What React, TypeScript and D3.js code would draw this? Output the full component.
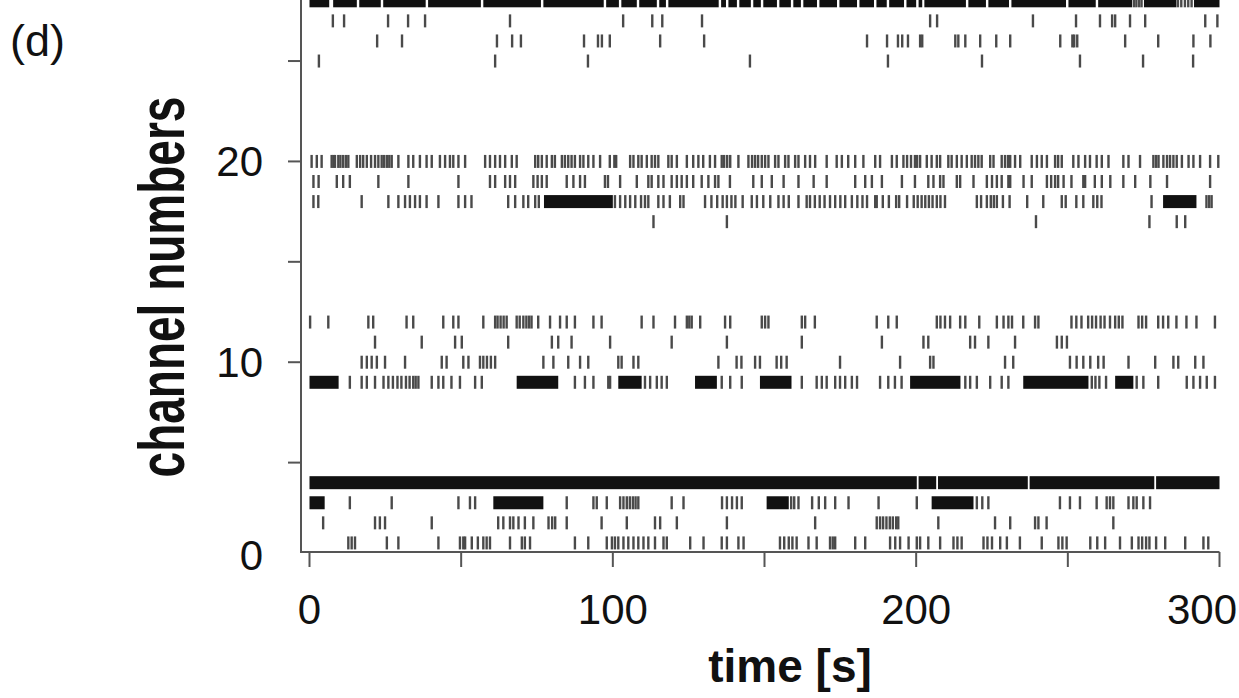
import React from 'react';
import * as d3 from 'd3';

// channels that carry activity (the others are silent)
const channelIds = [1, 2, 3, 4, 9, 10, 11, 12, 17, 18, 19, 20, 25, 26, 27, 28];

// spike times in seconds
const spikes01 = [12.8, 13.9, 15, 25.5, 29.3, 42.5, 49.6, 50.7, 51.3, 53.5, 55.5, 57.3, 58.4, 59.5, 66.1, 70, 71, 72.7, 87.5, 91.9, 98, 99.7, 100.7, 101.8, 103.5, 105.1, 106.8, 108.4, 110.1, 111.7, 113.9, 116.7, 117.8, 125.5, 129.9, 135.9, 137.6, 141.4, 143.1, 155.1, 156.5, 158, 159.2, 160.6, 164.5, 167.2, 171.6, 172.5, 173.3, 179.9, 183.2, 191.4, 193.1, 194.7, 197.5, 200.2, 201.3, 204, 207.9, 212.3, 213.6, 215, 222.2, 223.5, 225, 227.7, 229.9, 234.2, 241.4, 246.9, 248.2, 249.6, 257.4, 259.7, 262.3, 267.2, 271.1, 273.3, 274.5, 275.8, 276.9, 279.1, 282.1, 288.7, 294.7, 296.3];
const spikes02 = [4.5, 21.6, 23.2, 24.9, 40.3, 62.2, 63.9, 66.1, 67.2, 68.9, 71, 73.8, 78.8, 80, 81, 84.8, 96.3, 104.6, 113.9, 115.6, 121.1, 137.6, 166.7, 187, 188.1, 189.1, 190.2, 191.3, 192.3, 193.4, 194.1, 207.3, 226, 231, 239.2, 240.3, 243, 265];
const spikes03 = [13.3, 27.1, 49.1, 52.9, 54.6, 84.8, 93.6, 94.7, 98, 102.4, 103.5, 104.6, 105.6, 106.6, 107.5, 108.4, 119.4, 123.3, 136, 137.6, 139.3, 140.9, 142.5, 158.8, 159.8, 161.2, 165.7, 167.9, 170, 173.3, 177.7, 187.6, 200.2, 220, 221.8, 223.8, 247.4, 250.7, 254, 259.5, 262.8, 263.9, 265, 270, 271.6, 272.7, 274.9, 277.1];
const spikes04: number[] = [];
const spikes09 = [13.3, 17.2, 18.9, 21.6, 24.4, 26, 27.5, 29, 30.3, 31.8, 33, 34.2, 35, 35.9, 40.3, 42.5, 44.1, 46.8, 49.6, 54.6, 56.8, 87.5, 90.8, 93.6, 98.5, 99.1, 110.6, 112.3, 114.5, 116.1, 117.8, 135.9, 138.7, 142.5, 162.3, 167.2, 168.9, 170.5, 173.3, 174.9, 176.6, 178.8, 180.5, 188.1, 190.8, 193, 195.2, 216.2, 217.8, 220, 224.4, 228.2, 230.4, 257.9, 259.1, 260.4, 262.6, 272.7, 274.9, 279.8, 289.2, 291.4, 293.6, 295.8, 298.5];
const spikes10 = [17.2, 18.9, 20.5, 22.2, 24.9, 31.5, 43.6, 45.2, 50.7, 52.4, 56.2, 57.3, 58.5, 59.8, 61.2, 77.1, 80.4, 85.3, 89.2, 91.9, 101.8, 102.9, 106.8, 108.4, 134.8, 140.8, 142.4, 146.9, 148.5, 154, 155.5, 157.3, 174.9, 194.7, 204.6, 205.7, 229.3, 232, 250.7, 252.9, 255.1, 257.4, 260, 261.8, 270, 278.8, 284.8, 286.4, 292, 294.7];
const spikes11 = [21.6, 37, 48, 50.2, 65.5, 79.9, 82, 86.4, 99.1, 119.4, 137.6, 162.3, 188.7, 202.4, 204, 217.8, 219.4, 223.8, 232.6, 246.4, 248, 249.7];
const spikes12 = [0.2, 6.2, 19.4, 21, 32, 34.2, 44.1, 47.4, 49.1, 57.3, 61.2, 62, 63, 64, 65, 68.3, 69.3, 70.5, 71.5, 72.4, 73.2, 75.4, 79.3, 82.6, 84.8, 87.5, 93.6, 96.3, 109.5, 113.4, 120.5, 124.4, 125.2, 126, 128.8, 137, 138.7, 149.1, 150.2, 151.3, 162.3, 163.4, 166.6, 187, 190.8, 193.6, 206.8, 208, 209.5, 211.2, 214.5, 216.2, 220.8, 226.6, 228.8, 230.4, 231.6, 235.3, 239.2, 240.3, 251.2, 252.8, 254.5, 256.7, 258, 259.3, 260.8, 262.1, 263.9, 265.6, 266.8, 268, 273.3, 274.5, 275.8, 279.8, 281.4, 283.1, 285.8, 289.1, 292.4, 298.5];
const spikes17 = [113.4, 137.6, 239.5, 276.9, 285.9, 288.7];
const spikes18 = [1.3, 2.9, 17.2, 26, 29.3, 31.5, 33.1, 34.8, 36.4, 38.6, 42.5, 49.1, 51.3, 53.4, 65.5, 67.8, 70.5, 72.1, 74.4, 75.6, 100.7, 102.4, 104.1, 105.7, 107.4, 109.3, 110.6, 111.7, 115, 116.7, 118.8, 122.2, 123.3, 130.4, 132.5, 134.4, 136.2, 137.6, 139.1, 140.4, 142.8, 145.8, 147.5, 149.6, 151.9, 154.6, 156.3, 158, 161.2, 163.9, 165, 166.6, 168.2, 169.8, 171.6, 173.3, 175, 176.6, 178.8, 180.6, 182.3, 183.8, 186.5, 187, 189, 191, 193.4, 194.4, 197, 199.2, 200.5, 201.8, 203, 204.2, 205.4, 206.8, 208, 209.5, 220, 221.4, 223.3, 224.6, 225.6, 226.6, 228.6, 230.8, 236.6, 241.9, 248, 249.3, 252.8, 255.1, 258.4, 259.7, 261.1, 277.6, 295.7, 296.6, 297.4];
const spikes19 = [1.3, 3, 9, 11.1, 13.3, 22.7, 32.6, 49.1, 59.5, 61.2, 64.5, 66.1, 67.8, 73.8, 75.2, 76.6, 78.2, 84.8, 87, 89.2, 90.8, 97.4, 98.4, 102.4, 107.9, 111.7, 112.8, 115, 116.7, 119.4, 121.1, 122.7, 124.4, 126.5, 129.3, 131.5, 133.7, 134.8, 138.6, 146.3, 149.1, 152.4, 156.3, 161.2, 166.2, 170.5, 179.9, 183.2, 185.4, 188.7, 195.3, 199.6, 204, 205.7, 207.9, 209, 213.4, 214.5, 218.9, 223.3, 225, 226.6, 228.2, 230.4, 231, 235.4, 238.1, 243.1, 244.5, 245.8, 246.8, 248.6, 251.2, 255.1, 255.7, 258.9, 261.2, 264, 268.3, 272.2, 277.2, 282.7, 296.9];
const spikes20 = [0.7, 2.4, 4, 7.3, 7.9, 8.4, 9.5, 10.2, 11.1, 12, 12.8, 15.6, 16.7, 17.7, 18.9, 20.3, 21.6, 22.7, 23.8, 24.6, 25.5, 26.3, 27.1, 29.3, 32.6, 34.2, 36.4, 38.6, 40.3, 43, 44.7, 46.3, 47.4, 49.1, 51.3, 57.9, 59.5, 61.2, 62.8, 64.5, 66.7, 68.3, 74.4, 75.4, 76.6, 78.2, 79.9, 80.9, 83.2, 84.2, 85.3, 86.4, 87.5, 89.2, 90.3, 91.9, 93.6, 95.8, 99, 100.5, 101.1, 105.7, 106.8, 108.4, 109.5, 111.2, 112.8, 113.9, 115, 118.3, 119.4, 121.1, 124.4, 126.5, 128.2, 129.8, 132, 133.7, 135.9, 136.7, 137.7, 138.7, 141.4, 144.7, 145.9, 146.9, 147.9, 149.1, 150.2, 151.3, 153.5, 154.6, 156.8, 157.9, 160.1, 161.2, 163.4, 165, 166.7, 170.5, 173.8, 175.5, 177.6, 179.9, 182.6, 186.5, 188.1, 192, 193.6, 195.8, 197, 198.3, 199.6, 200.3, 201.3, 203.5, 205.1, 206.8, 207.9, 210.6, 211.7, 213.4, 215, 216.7, 218.3, 219.4, 220.5, 221.6, 224.4, 225.5, 228.2, 229.3, 230.3, 231, 232.6, 234.3, 238.1, 239.8, 241.4, 243.1, 245.8, 246.8, 248, 251.8, 253.5, 255.7, 257.3, 259.5, 261.2, 263.4, 268.3, 270, 273.8, 278.2, 279.1, 279.9, 281.5, 282.7, 283.7, 284.8, 285.9, 287.6, 289.8, 291.4, 293.6, 296.9, 299.6];
const spikes25 = [3.1, 61.2, 91.8, 145.2, 190.7, 221.7, 254, 274.8, 291.3];
const spikes26 = [22.3, 30.5, 61.8, 66.8, 69.7, 90.5, 95.1, 96.4, 99, 115.6, 130.1, 183.8, 190.4, 194, 195.4, 197.3, 201.3, 202, 212.9, 213.9, 216.2, 221.1, 226.4, 231, 247.5, 251.5, 252.1, 253.1, 268.9, 279.8, 291.4, 297];
const spikes27 = [7.7, 11.4, 25.9, 32.5, 38.1, 66.1, 103.4, 113, 116.3, 129.4, 204.6, 206.9, 238.5, 252.7, 260.6, 264.6, 265.6, 270.5, 275.5, 295.3, 299.3];
const spikes28 = [271.8, 272.6, 273.5, 274.3, 286.3, 287.4, 288.6, 289.7, 290.8];

// dense bursts that print as solid black: [start, end] in seconds
const bursts03 = [[0, 5], [60.6, 77.1], [150.7, 158], [205.1, 218.9]];
const bursts04 = [[0, 200.2], [200.8, 206.6], [207.2, 236.8], [237.4, 278.5], [279.1, 300]];
const bursts09 = [[0, 9.6], [68.3, 82], [101.8, 109.5], [127.1, 134.3], [148.5, 158.9], [198, 214.6], [235.3, 256.8], [265.6, 271.6]];
const bursts18 = [[77.3, 100], [281.4, 292.4]];
const bursts28 = [[0, 6.5], [7.8, 15.6], [16.4, 23.5], [24.3, 38.3], [39.1, 56.5], [57.3, 76.3], [77.1, 97], [97.8, 102], [102.8, 107.9], [108.7, 114.5], [115.3, 117.5], [118.3, 134.9], [135.7, 137.3], [138.1, 140.9], [141.7, 145.5], [146.3, 148.8], [149.6, 154.1], [154.9, 158.7], [159.5, 162], [162.8, 167.3], [168.1, 173.9], [174.7, 180.5], [181.3, 186.1], [186.9, 190.3], [191.1, 196], [196.8, 200], [200.8, 202], [202.7, 216.4], [217.2, 223], [223.8, 230.6], [231.4, 249.4], [250.2, 259.2], [260, 271.2], [275.1, 285.8], [291.6, 300]];

const xTicks = [0, 50, 100, 150, 200, 250, 300];
const xTickLabels = [0, 100, 200, 300];
const yTicks = [5, 10, 15, 20, 25];
const yTickLabels = [0, 10, 20];

const spikeTable: Record<number, number[]> = {
  1: spikes01, 2: spikes02, 3: spikes03, 4: spikes04, 9: spikes09, 10: spikes10, 11: spikes11, 12: spikes12,
  17: spikes17, 18: spikes18, 19: spikes19, 20: spikes20, 25: spikes25, 26: spikes26, 27: spikes27, 28: spikes28,
};
const burstTable: Record<number, number[][]> = { 3: bursts03, 4: bursts04, 9: bursts09, 18: bursts18, 28: bursts28 };

const W = 1239;
const H = 698;
const font = '"Liberation Sans", Arial, sans-serif';

export default function App() {
  const x = d3.scaleLinear().domain([0, 300]).range([309.5, 1219.5]);
  const y = d3.scaleLinear().domain([0, 28]).range([563, 0.8]);
  const axisLeft = 301;
  const axisBottom = 552;
  const half = 6.5;
  const ink = '#4a4a4a';

  return (
    <svg width={W} height={H} style={{ position: 'absolute', left: 0, top: 0, background: '#fff' }}>
      <rect width={W} height={H} fill="#fff" />

      {/* raster */}
      {channelIds.map((c) => (
        <g key={c}>
          {(burstTable[c] || []).map((b, i) => (
            <rect key={'b' + i} x={x(b[0])} y={y(c) - half} width={x(b[1]) - x(b[0])} height={half * 2} fill="#111" />
          ))}
          {spikeTable[c].map((t, i) => (
            <line key={'s' + i} x1={x(t)} x2={x(t)} y1={y(c) - half} y2={y(c) + half} stroke={ink} strokeWidth={2.4} />
          ))}
        </g>
      ))}

      {/* axes */}
      <g stroke="#555" strokeWidth={2} fill="none">
        <line x1={axisLeft} x2={axisLeft} y1={0} y2={axisBottom} />
        <line x1={axisLeft - 1} x2={x(300)} y1={axisBottom} y2={axisBottom} />
        {xTicks.map((t) => (
          <line key={t} x1={x(t)} x2={x(t)} y1={axisBottom} y2={axisBottom + 15} />
        ))}
        {yTicks.map((t) => (
          <line key={t} x1={axisLeft - 13} x2={axisLeft} y1={y(t)} y2={y(t)} />
        ))}
      </g>

      <g fontFamily={font} fontSize={42} fill="#111">
        {xTickLabels.map((t) => (
          <text key={t} x={Math.min(x(t), 1202)} y={624} textAnchor="middle">{t}</text>
        ))}
        {yTickLabels.map((t) => (
          <text key={t} x={263} y={Math.min(y(t), axisBottom + 3)} dy="0.35em" textAnchor="end">{t}</text>
        ))}
        <text x={10} y={56} fontSize={45}>(d)</text>
      </g>

      <text x={790} y={682} textAnchor="middle" fontFamily={font} fontSize={46} fontWeight="bold" fill="#111">time [s]</text>
      <text transform={`translate(184, 287) rotate(-90) scale(1, 1.4)`} textAnchor="middle" fontFamily={font} fontSize={46} fontWeight="bold" fill="#111">channel numbers</text>
    </svg>
  );
}
